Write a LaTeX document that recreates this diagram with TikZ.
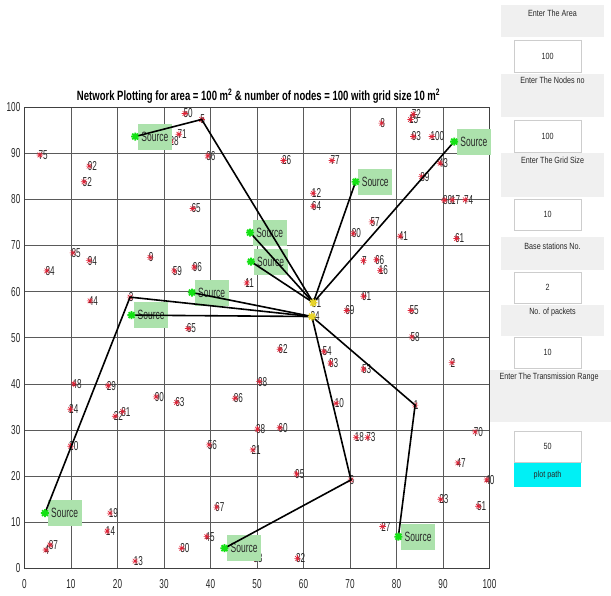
\documentclass[tikz,border=0pt]{standalone}
\usepackage{fontspec}
\setmainfont{Liberation Sans}
\usepackage{graphicx}
\definecolor{gridc}{RGB}{90,90,90}
\definecolor{astred}{RGB}{225,35,55}
\definecolor{srcbg}{RGB}{172,226,172}
\definecolor{srcgr}{RGB}{20,225,20}
\definecolor{bsyel}{RGB}{232,212,40}
\definecolor{panelg}{RGB}{240,240,240}
\definecolor{editb}{RGB}{205,205,205}
\definecolor{btncy}{RGB}{0,240,245}
\definecolor{labc}{RGB}{40,40,40}
\newcommand\nar[2][0.63]{\scalebox{#1}[1]{#2}}
\newcommand\nd[4]{\coordinate (#1) at (#2,#3);\node[lbl] (#1l) at (#1) {\nar{#4}};\pic at (#1) {redast};}
\newcommand\srcat[3]{\coordinate (#1) at (#2,#3);\node[srcbox] (#1box) at (#1) {\nar{Source}};}
\newcommand\guilab[5]{\node[panelbox, minimum height={#3-#2}] (#1) at (552.5,{(#2+#3)/2}) {};\node[ptext] (#1t) at (552.5,#4) {\nar[0.8]{#5}};}
\newcommand\guiedit[4]{\node[editbox, minimum height={#3-#2}] (#1) at (547.5,{(#2+#3)/2}) {\nar[0.8]{#4}};}
\tikzset{
  lbl/.style={anchor=west, inner sep=0pt, xshift=-1.5bp, text=labc, font=\fontsize{13}{13}\selectfont},
  srcbox/.style={anchor=west, xshift=2.5bp, fill=srcbg, minimum width=34bp, minimum height=26bp, inner sep=1bp, text=labc, font=\fontsize{13.5}{13.5}\selectfont},
  ticklbl/.style={inner sep=0pt, text=labc, font=\fontsize{13}{13}\selectfont},
  conn/.style={black, line width=1.6bp},
  redast/.pic={\draw[astred, line width=0.6bp] (-3.2bp,0)--(3.2bp,0) (0,-3.2bp)--(0,3.2bp) (-2.3bp,-2.3bp)--(2.3bp,2.3bp) (-2.3bp,2.3bp)--(2.3bp,-2.3bp);},
  srcast/.pic={\draw[srcgr, line width=1.8bp] (-4bp,0)--(4bp,0) (0,-4bp)--(0,4bp) (-2.9bp,-2.9bp)--(2.9bp,2.9bp) (-2.9bp,2.9bp)--(2.9bp,-2.9bp);},
  bsast/.pic={\draw[bsyel, line width=1.6bp] (-4bp,0)--(4bp,0) (0,-4bp)--(0,4bp) (-2.9bp,-2.9bp)--(2.9bp,2.9bp) (-2.9bp,2.9bp)--(2.9bp,-2.9bp);},
  panelbox/.style={fill=panelg, draw=none, minimum width=103bp, inner sep=0pt},
  editbox/.style={fill=white, draw=editb, line width=0.6bp, minimum width=67bp, inner sep=0pt, text=labc, font=\fontsize{9}{9}\selectfont},
  ptext/.style={inner sep=0pt, text=labc, font=\fontsize{9}{9}\selectfont}
}
\begin{document}
\begin{tikzpicture}[x=1bp,y=-1bp]
\useasboundingbox (0,0) rectangle (611,596);
\fill[white] (0,0) rectangle (611,596);
% title
\node[inner sep=0pt, text=black] (title) at (258.5,96) {\resizebox{363bp}{\height}{\fontsize{13.5}{14}\selectfont\bfseries Network Plotting for area = 100 m\textsuperscript{2} \& number of nodes = 100 with grid size 10 m\textsuperscript{2}}};
% right GUI panel
\guilab{pA}{5}{37}{13}{Enter The Area}
\guiedit{eA}{40}{72}{100}
\guilab{pB}{74}{117}{80}{Enter The Nodes no}
\guiedit{eB}{120}{152}{100}
\guilab{pC}{153}{197}{160}{Enter The Grid Size}
\guiedit{eC}{199}{230}{10}
\guilab{pD}{237}{270}{246}{Base stations No.}
\guiedit{eD}{272}{303}{2}
\guilab{pE}{305}{336}{312}{No. of packets}
\guiedit{eE}{337}{368}{10}
\node[fill=panelg, inner sep=0pt, minimum width=121bp, minimum height=52bp] (pF) at (550.5,396) {};
\node[ptext] (pFt) at (549,377) {\nar[0.8]{Enter The Transmission Range}};
\guiedit{eF}{431}{462}{50}
\node[fill=btncy, inner sep=0pt, minimum width=67bp, minimum height=24bp, text=labc, font=\fontsize{9}{9}\selectfont] (btn) at (547.5,475) {\nar[0.8]{plot path}};
% plot
\begin{scope}[shift={(24.5,568.5)}, x=4.65bp, y=4.615bp]
\draw[gridc, line width=0.8bp, step=10] (0,0) grid (100,100);
\draw[black!75, line width=0.8bp] (0,0) rectangle (100,100);
\foreach \v in {0,10,...,100}{
  \node[ticklbl, anchor=east, xshift=-4bp] (yt\v) at (0,\v) {\nar{\v}};
  \node[ticklbl, yshift=-16bp] (xt\v) at (\v,0) {\nar{\v}};
}
% ordinary nodes
\nd{n75}{3.3}{89.6}{75}
\nd{n92}{13.9}{87.2}{92}
\nd{n52}{12.8}{83.8}{52}
\nd{n65a}{36.2}{78.0}{65}
\nd{n50}{34.5}{98.6}{50}
\nd{n71}{33.2}{94.1}{71}
\nd{n28}{31.5}{92.6}{28}
\nd{n5}{38.1}{97.3}{5}
\nd{n36}{39.4}{89.4}{36}
\nd{n26}{55.7}{88.4}{26}
\nd{n77}{66.1}{88.4}{77}
\nd{n12}{62.1}{81.3}{12}
\nd{n64}{62.1}{78.5}{64}
\nd{n8}{76.8}{96.5}{8}
\nd{n15}{83.0}{97.3}{15}
\nd{n72}{83.6}{98.4}{72}
\nd{n93}{83.6}{93.6}{93}
\nd{n100}{87.6}{93.6}{100}
\nd{n43}{89.4}{87.8}{43}
\nd{n89}{85.4}{84.9}{89}
\nd{n88}{90.3}{79.8}{88}
\nd{n17}{92.0}{79.9}{17}
\nd{n74}{94.8}{79.9}{74}
\nd{n80}{70.7}{72.6}{80}
\nd{n57}{74.7}{75.1}{57}
\nd{n41}{80.8}{72.0}{41}
\nd{n61}{92.9}{71.5}{61}
\nd{n85}{10.4}{68.4}{85}
\nd{n94}{13.9}{66.7}{94}
\nd{n84}{4.8}{64.5}{84}
\nd{n9}{27.0}{67.4}{9}
\nd{n59}{32.2}{64.5}{59}
\nd{n96}{36.5}{65.3}{96}
\nd{n44}{14.1}{58.0}{44}
\nd{n3}{22.7}{58.8}{3}
\nd{n65b}{35.2}{52.0}{65}
\nd{n48}{10.6}{40.0}{48}
\nd{n29}{18.0}{39.6}{29}
\nd{n90}{28.3}{37.2}{90}
\nd{n63}{32.7}{36.0}{63}
\nd{n11}{47.8}{61.9}{11}
\nd{n62}{54.9}{47.5}{62}
\nd{n98}{50.5}{40.5}{98}
\nd{n86}{45.3}{36.9}{86}
\nd{n54}{64.4}{47.0}{54}
\nd{n83}{65.8}{44.5}{83}
\nd{n7}{72.9}{66.7}{7}
\nd{n66}{75.7}{66.9}{66}
\nd{n16}{76.5}{64.6}{16}
\nd{n91}{72.9}{59.0}{91}
\nd{n69}{69.3}{55.9}{69}
\nd{n55}{83.1}{55.9}{55}
\nd{n58}{83.3}{50.2}{58}
\nd{n2}{91.9}{44.6}{2}
\nd{n53}{72.9}{43.2}{53}
\nd{n10}{67.0}{35.8}{10}
\nd{n1}{84.0}{35.4}{1}
\nd{n24}{9.9}{34.5}{24}
\nd{n22}{19.5}{33.0}{22}
\nd{n81}{21.1}{34.0}{81}
\nd{n20}{9.9}{26.5}{20}
\nd{n19}{18.4}{12.0}{19}
\nd{n14}{17.8}{8.1}{14}
\nd{n87}{5.5}{5.1}{87}
\nd{n4}{4.6}{4.0}{4}
\nd{n13}{23.8}{1.6}{13}
\nd{n30}{33.8}{4.4}{30}
\nd{n38}{50.1}{30.2}{38}
\nd{n60}{54.9}{30.5}{60}
\nd{n56}{39.7}{26.8}{56}
\nd{n21}{49.1}{25.7}{21}
\nd{n95}{58.5}{20.5}{95}
\nd{n67}{41.3}{13.3}{67}
\nd{n45}{39.2}{6.9}{45}
\nd{n33}{49.5}{2.2}{33}
\nd{n32}{58.7}{2.2}{32}
\nd{n18}{71.3}{28.4}{18}
\nd{n73}{73.8}{28.4}{73}
\nd{n70}{96.9}{29.6}{70}
\nd{n47}{93.2}{22.9}{47}
\nd{n6}{70.2}{19.2}{6}
\nd{n40}{99.4}{19.2}{40}
\nd{n23}{89.5}{15.0}{23}
\nd{n51}{97.6}{13.5}{51}
\nd{n27}{77.0}{9.1}{27}
% base stations
\coordinate (b1) at (62.1,57.6);
\node[lbl] (b1l) at (b1) {\nar{31}};
\coordinate (b2) at (61.8,54.6);
\node[lbl] (b2l) at (b2) {\nar{34}};
% sources
\srcat{s1}{23.8}{93.6}
\srcat{s2}{48.5}{72.8}
\srcat{s3}{48.7}{66.5}
\srcat{s4}{71.2}{83.8}
\srcat{s5}{92.4}{92.5}
\srcat{s6}{36.0}{59.8}
\srcat{s7}{23.0}{54.9}
\srcat{s8}{4.4}{12.0}
\srcat{s9}{43.0}{4.4}
\srcat{s10}{80.4}{6.9}
% routes
\draw[conn] (s1) -- (n5) -- (b1);
\draw[conn] (s2) -- (b1);
\draw[conn] (s3) -- (b1);
\draw[conn] (s4) -- (b1);
\draw[conn] (s5) -- (b1);
\draw[conn] (s6) -- (b2);
\draw[conn] (s7) -- (b2);
\draw[conn] (s8) -- (n3) -- (b2);
\draw[conn] (s9) -- (n6) -- (b2);
\draw[conn] (s10) -- (n1) -- (b2);
% markers on top
\foreach \s in {s1,s2,s3,s4,s5,s6,s7,s8,s9,s10}{\pic at (\s) {srcast};}
\pic at (b1) {bsast};
\pic at (b2) {bsast};
\end{scope}
\end{tikzpicture}
\end{document}
